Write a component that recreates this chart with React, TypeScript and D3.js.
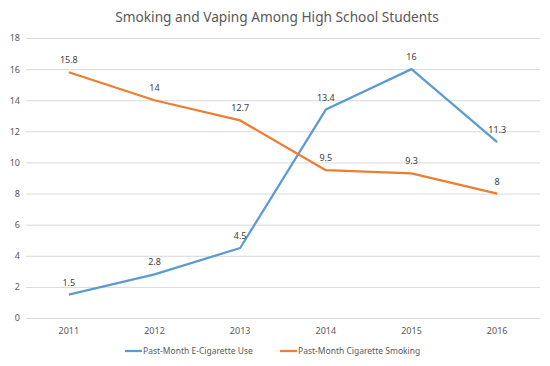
import { useRef, useEffect } from 'react';
import * as d3 from 'd3';

// chart data
const years = ['2011', '2012', '2013', '2014', '2015', '2016'];
const eCigarette = [1.5, 2.8, 4.5, 13.4, 16, 11.3];
const cigarette = [15.8, 14, 12.7, 9.5, 9.3, 8];
const yTicks = [0, 2, 4, 6, 8, 10, 12, 14, 16, 18];
const seriesNames = ['Past-Month E-Cigarette Use', 'Past-Month Cigarette Smoking'];
const seriesColors = ['#5B9BD5', '#ED7D31'];

const App = () => {
  const svgRef = useRef<SVGSVGElement>(null);

  useEffect(() => {
    const width = 550;
    const height = 366;
    const margin = { top: 38, right: 10, bottom: 48, left: 26 };
    const font = '"Noto Sans", "Open Sans", sans-serif';

    const svg = d3.select(svgRef.current);
    svg.selectAll('*').remove();

    svg.append('rect').attr('width', width).attr('height', height).attr('fill', '#fff');

    const x = d3
      .scaleBand()
      .domain(years)
      .range([margin.left, width - margin.right]);

    const y = d3
      .scaleLinear()
      .domain([0, 18])
      .range([height - margin.bottom, margin.top]);

    // title
    svg.append('text')
      .text('Smoking and Vaping Among High School Students')
      .attr('x', 277)
      .attr('y', 22)
      .attr('text-anchor', 'middle')
      .attr('font-family', font)
      .attr('font-size', 13.7)
      .attr('fill', '#595959');

    // gridlines + y labels
    const yAxis = svg.append('g')
      .attr('transform', `translate(${margin.left}, 0)`)
      .call(d3.axisLeft(y).tickValues(yTicks).tickSize(-(width - margin.left - margin.right)).tickPadding(6));
    yAxis.select('.domain').remove();
    yAxis.selectAll('line').attr('stroke', '#d9d9d9').attr('stroke-width', 1);
    yAxis.selectAll('text')
      .attr('font-family', font)
      .attr('font-size', 9)
      .attr('fill', '#595959');

    // x labels
    const xAxis = svg.append('g')
      .attr('transform', `translate(0, ${height - margin.bottom})`)
      .call(d3.axisBottom(x).tickSize(0).tickPadding(10));
    xAxis.select('.domain').remove();
    xAxis.selectAll('text')
      .attr('font-family', font)
      .attr('font-size', 9)
      .attr('fill', '#595959');

    const line = d3.line<number>()
      .x((_, i) => x(years[i])! + x.bandwidth() / 2)
      .y(d => y(d));

    [eCigarette, cigarette].forEach((values, s) => {
      svg.append('path')
        .datum(values)
        .attr('d', line)
        .attr('fill', 'none')
        .attr('stroke', seriesColors[s])
        .attr('stroke-width', 2.25)
        .attr('stroke-linejoin', 'round');

      svg.selectAll(`text.label${s}`)
        .data(values)
        .enter()
        .append('text')
        .attr('class', `label${s}`)
        .text(d => d)
        .attr('x', (_, i) => x(years[i])! + x.bandwidth() / 2)
        .attr('y', d => y(d) - 9)
        .attr('text-anchor', 'middle')
        .attr('font-family', font)
        .attr('font-size', 9)
        .attr('fill', '#404040');
    });

    // legend
    const legendX = [125, 280];
    seriesNames.forEach((name, s) => {
      svg.append('line')
        .attr('x1', legendX[s])
        .attr('x2', legendX[s] + 17)
        .attr('y1', 351)
        .attr('y2', 351)
        .attr('stroke', seriesColors[s])
        .attr('stroke-width', 2.25);
      svg.append('text')
        .text(name)
        .attr('x', legendX[s] + 18)
        .attr('y', 354)
        .attr('font-family', font)
        .attr('font-size', 8.5)
        .attr('fill', '#595959');
    });
  }, []);

  return (
    <div style={{ position: 'absolute', left: 0, top: 0 }}>
      <svg ref={svgRef} width={550} height={366}></svg>
    </div>
  );
};

export default App;
